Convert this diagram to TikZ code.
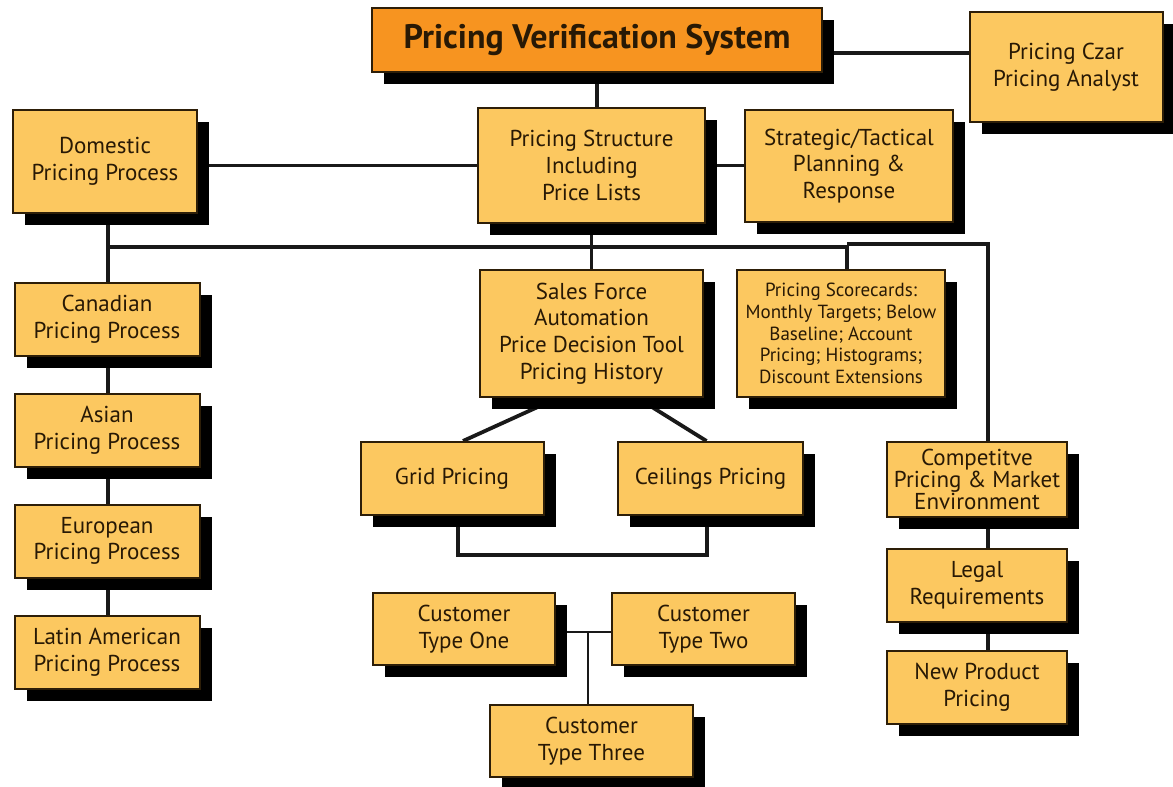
\documentclass[tikz,border=0pt]{standalone}
\usepackage{fontspec}
\setmainfont{PT Sans}
\usetikzlibrary{positioning,calc,backgrounds,shadows}

\definecolor{boxfill}{RGB}{252,200,96}
\definecolor{topfill}{RGB}{247,148,32}
\definecolor{boxline}{RGB}{45,30,8}
\definecolor{boxtext}{RGB}{40,25,5}

\begin{document}
\begin{tikzpicture}[
	x=0.5pt, y=-0.5pt,
	font=\fontsize{11.5}{13.3}\selectfont,
	box/.style={
		draw=boxline,
		line width=1pt,
		fill=boxfill,
		text=boxtext,
		align=center,
		inner sep=2pt,
		drop shadow={shadow xshift=6pt, shadow yshift=-6pt, fill=black, opacity=1},
	},
	mainbox/.style={
		box,
		fill=topfill,
		font=\fontsize{17}{19}\selectfont\bfseries,
	},
	conn/.style={line width=1.9pt, draw=black!90},
	thinconn/.style={line width=1pt, draw=black!90},
]
\useasboundingbox (0,0) rectangle (1173,787);

% Kopf und oberste Ebene
\node[mainbox, minimum width=225pt, minimum height=32pt] (pvs) at (597,40) {Pricing Verification System};
\node[box, minimum width=96.5pt, minimum height=55pt] (czar) at (1066,67) {Pricing Czar\\Pricing Analyst};
\node[box, minimum width=92pt, minimum height=51.5pt] (dom) at (105,161) {Domestic\\Pricing Process};
\node[box, minimum width=113.5pt, minimum height=57.5pt] (struct) at (591.5,165.5) {Pricing Structure\\Including\\Price Lists};
\node[box, minimum width=104pt, minimum height=56pt] (strat) at (849,166) {Strategic/Tactical\\Planning \&\\Response};

% Regionale Prozesse (linke Spalte)
\node[box, minimum width=92.5pt, minimum height=36.5pt] (can) at (107,319) {Canadian\\Pricing Process};
\node[box, minimum width=92.5pt, minimum height=36.5pt, below=18pt of can] (asia) {Asian\\Pricing Process};
\node[box, minimum width=92.5pt, minimum height=36.5pt, below=18pt of asia] (eur) {European\\Pricing Process};
\node[box, minimum width=92.5pt, minimum height=36.5pt, below=18pt of eur] (lat) {Latin American\\Pricing Process};

% Mittlere Ebene
\node[box, minimum width=111.5pt, minimum height=63.5pt] (sfa) at (591.5,333.5) {Sales Force\\Automation\\Price Decision Tool\\Pricing History};
\node[box, minimum width=104pt, minimum height=63.5pt, font=\fontsize{9.5}{10.8}\selectfont] (score) at (841,333.5) {Pricing Scorecards:\\Monthly Targets; Below\\Baseline; Account\\Pricing; Histograms;\\Discount Extensions};
\node[box, minimum width=91.5pt, minimum height=36.5pt] (grid) at (452,478.5) {Grid Pricing};
\node[box, minimum width=92.5pt, minimum height=36.5pt] (ceil) at (710.5,478.5) {Ceilings Pricing};

% Kundentypen
\node[box, minimum width=91pt, minimum height=36pt] (cto) at (464,629) {Customer\\Type One};
\node[box, minimum width=91.5pt, minimum height=36pt] (ctt) at (703.5,629) {Customer\\Type Two};
\node[box, minimum width=101.5pt, minimum height=36pt] (cth) at (591.5,741) {Customer\\Type Three};

% Rechte Spalte
\node[box, minimum width=90pt, minimum height=37.5pt, font=\fontsize{11.5}{11}\selectfont] (comp) at (977,479.5) {Competitve\\Pricing \& Market\\Environment};
\node[box, minimum width=90pt, minimum height=36.5pt, below=15pt of comp] (legal) {Legal\\Requirements};
\node[box, minimum width=90pt, minimum height=36.5pt, below=13.5pt of legal] (newp) {New Product\\Pricing};

% Hilfspunkte der Sammelleitungen
\coordinate (czarJ) at (822,53);
\coordinate (busL) at (108,247);
\coordinate (busM) at (847,247);
\coordinate (busM2) at (847,244);
\coordinate (busR) at (988,244);
\coordinate (brL) at (458,555);
\coordinate (brR) at (707,555);
\coordinate (custJ) at (588,632);

% Verbindungen -- hinter den Schatten
\begin{scope}[on background layer]
\draw[conn] (pvs.south) -- (pvs.south |- struct.north);
\draw[conn] (czarJ) -- (czarJ -| czar.west);
\draw[conn] (struct.west -| dom.east) -- (struct.west);
\draw[conn] (struct.east) -- (struct.east -| strat.west);

\draw[conn] (dom.south -| busL) -- (can.north -| busL);
\draw[conn] (busL) -- (busM) -- (score.north -| busM);
\draw[conn] (busM2) -- (busR) -- (comp.north -| busR);
\draw[conn] (struct.south) -- (struct.south |- sfa.north);

\draw[conn] (can.south -| busL) -- (asia.north -| busL);
\draw[conn] (asia.south -| busL) -- (eur.north -| busL);
\draw[conn] (eur.south -| busL) -- (lat.north -| busL);

\draw[conn] ($(sfa.south)+(-34,0)$) -- ($(grid.north)+(11,0)$);
\draw[conn] ($(sfa.south)+(46,0)$) -- ($(ceil.north)+(-4,0)$);
\draw[conn] (grid.south -| brL) -- (brL) -- (brR) -- (ceil.south -| brR);

\draw[thinconn] (custJ -| cto.east) -- (custJ -| ctt.west);
\draw[thinconn] (custJ) -- (custJ |- cth.north);

\draw[conn] (comp.south -| busR) -- (legal.north -| busR);
\draw[conn] (legal.south -| busR) -- (newp.north -| busR);
\end{scope}

\end{tikzpicture}
\end{document}
